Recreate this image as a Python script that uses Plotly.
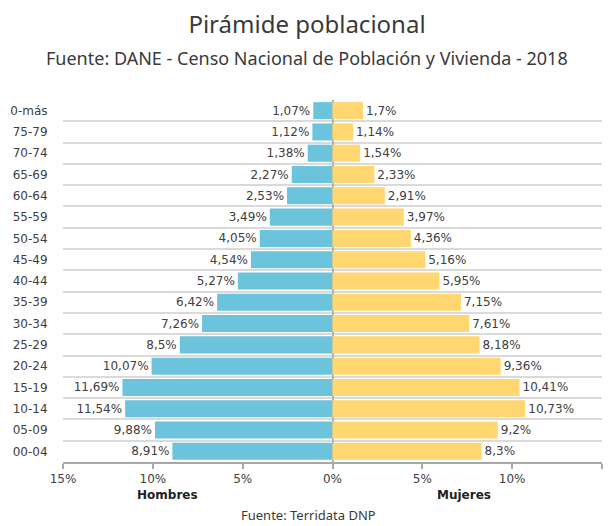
import plotly.graph_objects as go

grupos = ["0-más", "75-79", "70-74", "65-69", "60-64", "55-59", "50-54", "45-49",
          "40-44", "35-39", "30-34", "25-29", "20-24", "15-19", "10-14", "05-09", "00-04"]
hombres = [1.07, 1.12, 1.38, 2.27, 2.53, 3.49, 4.05, 4.54, 5.27, 6.42, 7.26, 8.5,
           10.07, 11.69, 11.54, 9.88, 8.91]
mujeres = [1.7, 1.14, 1.54, 2.33, 2.91, 3.97, 4.36, 5.16, 5.95, 7.15, 7.61, 8.18,
           9.36, 10.41, 10.73, 9.2, 8.3]
tick_vals = [-15, -10, -5, 0, 5, 10, 15]
tick_text = ["15%", "10%", "5%", "0%", "5%", "10%", "15%"]

n = len(grupos)
ypos = [n - 1 - i for i in range(n)]


def fmt(v):
    return f"{v:g}".replace(".", ",") + "%"


FONT = "DejaVu Sans"
TITLE_FONT = "Noto Sans"

# page body has an 8px margin, so the figure is drawn 8px smaller and offset
W, H = 607, 518
PL, PR, PT, PB = 55, 594, 92, 454  # plot area in figure px
PH = PB - PT
PW = PR - PL

fig = go.Figure()
fig.add_trace(go.Bar(
    y=ypos, x=[-v for v in hombres], orientation="h", name="Hombres",
    marker=dict(color="#6CC3DC", line=dict(width=0)),
    text=[fmt(v) for v in hombres], textposition="outside",
    textfont=dict(family=FONT, size=12, color="#404040"),
    cliponaxis=False, width=0.8,
))
fig.add_trace(go.Bar(
    y=ypos, x=mujeres, orientation="h", name="Mujeres",
    marker=dict(color="#FFD66F", line=dict(width=0)),
    text=[fmt(v) for v in mujeres], textposition="outside",
    textfont=dict(family=FONT, size=12, color="#404040"),
    cliponaxis=False, width=0.8,
))

fig.update_layout(
    width=W, height=H,
    margin=dict(l=PL, r=W - PR, t=PT, b=H - PB, autoexpand=False),
    paper_bgcolor="white", plot_bgcolor="white",
    barmode="overlay", showlegend=False,
    font=dict(family=FONT, size=12, color="#404040"),
    title=dict(text="Pirámide poblacional", x=(307 - 8) / W, xanchor="center",
               y=1 - 17 / H, yanchor="middle", yref="container",
               font=dict(family=TITLE_FONT, size=24, color="#3a3a3a")),
    xaxis=dict(range=[-15, 15], tickvals=tick_vals, ticktext=tick_text,
               showgrid=False, zeroline=True, zerolinecolor="#b0b0b0", zerolinewidth=1.5,
               showline=True, linecolor="#a8a8a8", linewidth=1.5,
               ticks="outside", ticklen=5, tickcolor="#a8a8a8", tickwidth=1.5,
               tickfont=dict(family=FONT, size=12, color="#404040"), fixedrange=True),
    yaxis=dict(range=[-0.5, n - 0.5], tickvals=ypos, ticktext=grupos,
               showgrid=False, zeroline=False, showline=False,
               ticks="outside", ticklen=12, tickcolor="rgba(0,0,0,0)",
               tickfont=dict(family=FONT, size=12, color="#404040"),
               minor=dict(tick0=0.5, dtick=1, showgrid=True, gridcolor="#dadada",
                          gridwidth=2, ticks=""),
               fixedrange=True),
    annotations=[
        dict(text="Fuente: DANE - Censo Nacional de Población y Vivienda - 2018",
             xref="paper", yref="paper", x=(307 - 8 - PL) / PW, y=(PB - 50) / PH,
             xanchor="center", yanchor="middle", showarrow=False,
             font=dict(family=TITLE_FONT, size=18, color="#3a3a3a")),
        dict(text="<b>Hombres</b>", xref="x", yref="paper", x=-9.2, y=(PB - 487) / PH,
             xanchor="center", yanchor="middle", showarrow=False,
             font=dict(family=FONT, size=12, color="#222")),
        dict(text="<b>Mujeres</b>", xref="x", yref="paper", x=7.3, y=(PB - 487) / PH,
             xanchor="center", yanchor="middle", showarrow=False,
             font=dict(family=FONT, size=12, color="#222")),
        dict(text="Fuente: Terridata DNP", xref="paper", yref="paper",
             x=(308 - 8 - PL) / PW, y=(PB - 507) / PH,
             xanchor="center", yanchor="middle", showarrow=False,
             font=dict(family=TITLE_FONT, size=13, color="#3a3a3a")),
    ],
)

fig.write_html("out.html")
